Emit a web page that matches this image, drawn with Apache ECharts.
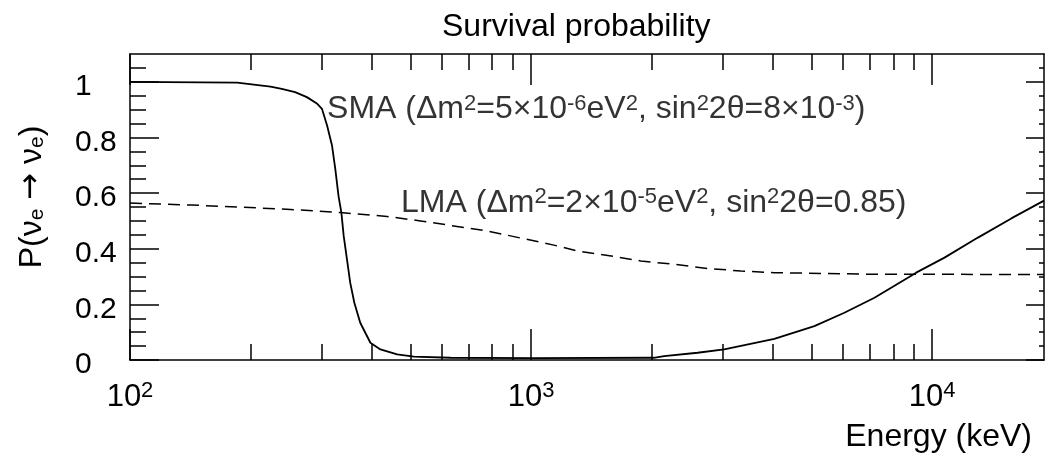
<!DOCTYPE html>
<html><head><meta charset="utf-8">
<script src="https://cdn.jsdelivr.net/npm/echarts@6/dist/echarts.min.js"></script>
<style>html,body{margin:0;padding:0;background:#fff}#c{width:1045px;height:460px}</style>
</head><body><div id="c"></div>
<script>
// ---- data ----
const energySMA = [100, 185, 224, 239, 258, 276, 293, 301, 310, 319, 325, 331, 336.5, 341, 347.5, 354, 362.5, 375, 397.5, 421, 463.5, 510, 630, 1000, 2022, 2146, 2600, 3030, 4040, 5084, 6040, 7178, 8697, 9121, 10732, 13004, 15749, 19000];
const probSMA   = [1.0, 0.997, 0.983, 0.975, 0.963, 0.945, 0.921, 0.903, 0.843, 0.770, 0.686, 0.590, 0.530, 0.446, 0.362, 0.278, 0.206, 0.134, 0.062, 0.038, 0.020, 0.012, 0.008, 0.007, 0.008, 0.014, 0.026, 0.038, 0.076, 0.122, 0.170, 0.224, 0.296, 0.314, 0.368, 0.440, 0.509, 0.573];
const energyLMA = [100, 142.6, 246, 334.5, 437.5, 530, 777, 1140, 1304, 1610, 1877, 2273, 2753, 3335, 4040, 5385, 7178, 10533, 19000];
const probLMA   = [0.564, 0.557, 0.542, 0.530, 0.516, 0.500, 0.464, 0.413, 0.392, 0.372, 0.356, 0.344, 0.329, 0.320, 0.314, 0.311, 0.308, 0.308, 0.307];

const xRange = [100, 19000];
const yRange = [0, 1.1];
const xMajorTicks = [100, 1000, 10000];
const xMinorTicks = [200, 300, 400, 500, 600, 700, 800, 900, 2000, 3000, 4000, 5000, 6000, 7000, 8000, 9000];
const yMajorTicks = [0, 0.2, 0.4, 0.6, 0.8, 1];
const yMinorTicks = [0.05, 0.1, 0.15, 0.25, 0.3, 0.35, 0.45, 0.5, 0.55, 0.65, 0.7, 0.75, 0.85, 0.9, 0.95, 1.05];

const titleText = 'Survival probability';
const xTitle = 'Energy (keV)';
const yTitle = 'P(\u03bd{sub|e} {arr|\u2192} \u03bd{sub|e})';
const smaLabel = 'SMA (\u0394m{sup|2}=5\u00d710{sup|-6}eV{sup|2}, sin{sup|2}2\u03b8=8\u00d710{sup|-3})';
const lmaLabel = 'LMA (\u0394m{sup|2}=2\u00d710{sup|-5}eV{sup|2}, sin{sup|2}2\u03b8=0.85)';
const smaLabelAt = [310, 0.90];
const lmaLabelAt = [474, 0.565];

// ---- chart ----
const FONT = "'Liberation Sans', Arial, Helvetica, sans-serif";
const BLACK = '#000';
const supRich = { sup: { fontSize: 22, fontFamily: FONT, color: BLACK, verticalAlign: 'top', lineHeight: 18 } };

function xAxisDef(pos, major) {
  return {
    type: 'log', logBase: 10, min: xRange[0], max: xRange[1], position: pos,
    splitLine: { show: false }, minorTick: { show: false }, minorSplitLine: { show: false },
    axisLine: { show: major, onZero: false, lineStyle: { color: BLACK, width: 1.5 } },
    axisTick: { show: true, inside: true, length: major ? 31 : 16, customValues: major ? xMajorTicks : xMinorTicks,
                lineStyle: { color: BLACK, width: 1.5 } },
    axisLabel: (major && pos === 'bottom') ? {
      show: true, customValues: xMajorTicks, margin: 20, color: BLACK, fontFamily: FONT, fontSize: 31, lineHeight: 34,
      formatter: v => '10{sup|' + Math.round(Math.log10(v)) + '}', rich: supRich
    } : { show: false }
  };
}
function yAxisDef(pos, major) {
  const left = pos === 'left';
  return {
    type: 'value', min: yRange[0], max: yRange[1], position: pos,
    splitLine: { show: false }, minorTick: { show: false },
    axisLine: { show: major, onZero: false, lineStyle: { color: BLACK, width: 1.5 } },
    axisTick: { show: true, inside: true, length: major ? (left ? 29 : 18) : (left ? 16 : 5),
                customValues: major ? yMajorTicks : yMinorTicks,
                lineStyle: { color: BLACK, width: 1.5 } },
    axisLabel: (major && left) ? {
      show: true, customValues: yMajorTicks, margin: 55, align: 'left', verticalAlign: 'top', lineHeight: 10,
      color: BLACK, fontFamily: FONT, fontSize: 30
    } : { show: false }
  };
}

const chart = echarts.init(document.getElementById('c'), null, { renderer: 'canvas' });
chart.setOption({
  animation: false,
  backgroundColor: '#fff',
  title: [
    { text: titleText, left: 442, top: 11, padding: 0,
      textStyle: { fontFamily: FONT, fontSize: 32, fontWeight: 'normal', color: BLACK } },
    { text: xTitle, right: 13, top: 421, padding: 0,
      textStyle: { fontFamily: FONT, fontSize: 32, fontWeight: 'normal', color: BLACK } }
  ],
  graphic: [{
    type: 'text', x: 32, y: 197, rotation: Math.PI / 2,
    style: { text: yTitle, fontFamily: FONT, fontSize: 32, fill: BLACK, align: 'center', verticalAlign: 'middle',
             rich: { sub: { fontSize: 21, fontFamily: FONT, verticalAlign: 'bottom', lineHeight: 16 },
                     arr: { fontSize: 32, fontFamily: "'DejaVu Sans', sans-serif" } } }
  }],
  grid: { left: 130, top: 54, right: 1, bottom: 100, containLabel: false },
  xAxis: [xAxisDef('bottom', true), xAxisDef('bottom', false), xAxisDef('top', true), xAxisDef('top', false)],
  yAxis: [yAxisDef('left', true), yAxisDef('left', false), yAxisDef('right', true), yAxisDef('right', false)],
  series: [
    { name: 'SMA', type: 'line', xAxisIndex: 0, yAxisIndex: 0, showSymbol: false, symbol: 'none',
      smooth: false,
      lineStyle: { color: BLACK, width: 1.8 },
      data: energySMA.map((e, i) => [e, probSMA[i]]) },
    { name: 'LMA', type: 'line', xAxisIndex: 0, yAxisIndex: 0, showSymbol: false, symbol: 'none',
      smooth: false,
      lineStyle: { color: BLACK, width: 1.5, type: [12, 7] },
      data: energyLMA.map((e, i) => [e, probLMA[i]]) },
    { name: 'labels', type: 'scatter', xAxisIndex: 0, yAxisIndex: 0, symbolSize: 0, silent: true,
      label: { show: true, position: 'inside', align: 'left', verticalAlign: 'middle',
               color: BLACK, fontFamily: FONT, fontSize: 32, lineHeight: 34,
               formatter: p => p.data.name === 'SMA' ? smaLabel : lmaLabel, rich: supRich },
      data: [{ name: 'SMA', value: smaLabelAt }, { name: 'LMA', value: lmaLabelAt }] }
  ]
});
</script></body></html>
